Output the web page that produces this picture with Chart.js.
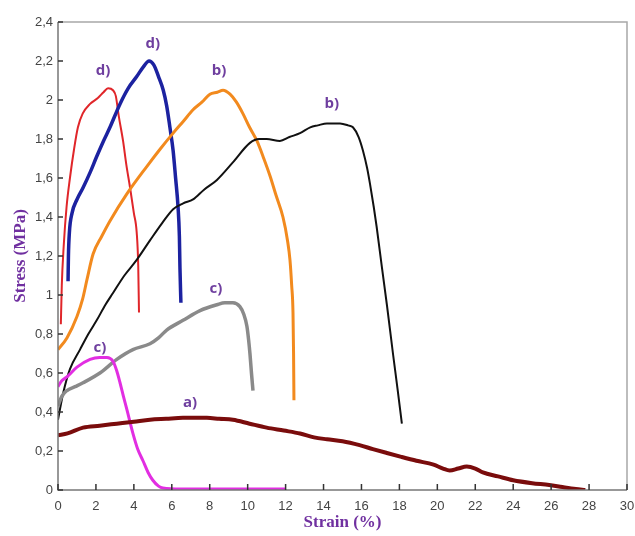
<!DOCTYPE html>
<html><head><meta charset="utf-8">
<script src="https://cdn.jsdelivr.net/npm/chart.js@4/dist/chart.umd.min.js"></script>
<style>html,body{margin:0;padding:0;background:#fff}#wrap{width:635px;height:536px}</style>
</head><body><div id="wrap"><canvas id="c" width="635" height="536"></canvas></div>
<script>
// ---- data (strain %, stress MPa) ----
const redDX = [0.15,0.2,0.3,0.45,0.63,0.85,1.05,1.3,1.69,2.1,2.4,2.64,2.9,3.05,3.2,3.43,3.6,3.8,4.0,4.15,4.23,4.27];
const redDY = [0.85,1.05,1.25,1.45,1.6,1.75,1.86,1.93,1.98,2.01,2.04,2.06,2.05,2.02,1.92,1.79,1.67,1.55,1.42,1.32,1.15,0.91];
const blueDX = [0.53,0.55,0.6,0.74,1.0,1.32,1.7,2.04,2.4,2.74,3.27,3.7,4.15,4.5,4.8,5.05,5.3,5.55,5.73,5.9,6.07,6.2,6.33,6.4,6.43,6.48];
const blueDY = [1.07,1.2,1.32,1.42,1.49,1.55,1.63,1.71,1.79,1.86,1.98,2.06,2.12,2.17,2.2,2.18,2.12,2.05,1.97,1.86,1.74,1.6,1.45,1.3,1.14,0.96];
const orangeBX = [0,0.47,1.0,1.3,1.53,1.85,2.3,2.74,3.64,4.69,5.4,6.07,6.6,7.12,7.6,8.01,8.4,8.7,9.07,9.4,9.75,10.1,10.49,10.85,11.18,11.5,11.86,12.1,12.23,12.32,12.39,12.42,12.44];
const orangeBY = [0.72,0.78,0.89,0.98,1.08,1.21,1.3,1.38,1.52,1.66,1.75,1.83,1.89,1.95,1.99,2.03,2.04,2.05,2.03,1.99,1.93,1.86,1.79,1.70,1.61,1.51,1.40,1.28,1.18,1.05,0.91,0.7,0.46];
const blackBX = [0,0.28,0.63,1.16,1.6,2.04,2.5,2.9,3.5,4.15,4.85,5.5,6.07,6.6,7.12,7.7,8.38,9.22,10.12,10.6,11.0,11.7,12.2,12.76,13.3,13.7,14.18,14.87,15.3,15.55,15.85,16.08,16.3,16.45,16.65,16.8,17.08,17.34,17.66,17.9,18.13];
const blackBY = [0.36,0.5,0.62,0.72,0.8,0.87,0.95,1.01,1.1,1.18,1.28,1.37,1.44,1.47,1.49,1.54,1.59,1.68,1.78,1.80,1.80,1.79,1.81,1.83,1.86,1.87,1.88,1.88,1.87,1.86,1.81,1.74,1.65,1.57,1.45,1.35,1.14,0.95,0.70,0.52,0.34];
const greyCX = [0,0.2,0.47,0.9,1.32,2.21,3.1,3.95,4.85,5.3,5.73,6.59,7.49,8.38,8.8,9.22,9.59,9.8,9.96,10.05,10.12,10.2,10.28];
const greyCY = [0.43,0.48,0.51,0.53,0.55,0.6,0.67,0.72,0.75,0.78,0.82,0.87,0.92,0.95,0.96,0.96,0.94,0.9,0.84,0.77,0.70,0.6,0.51];
const magentaCX = [0,0.2,0.47,1.0,1.69,2.2,2.58,2.9,3.1,3.27,3.45,3.64,3.95,4.2,4.48,4.75,5.0,5.3,5.53,6.5,8,10,12];
const magentaCY = [0.53,0.56,0.58,0.63,0.67,0.68,0.68,0.66,0.61,0.55,0.48,0.41,0.29,0.21,0.15,0.09,0.05,0.02,0.01,0.005,0.005,0.005,0.005];
const darkAX = [0,0.5,1.32,2.2,3.1,4.0,4.85,5.7,6.59,7.2,7.85,8.5,9.22,10.1,11.0,11.9,12.76,13.5,14.18,15,15.9,16.6,17.34,18.1,18.9,19.8,20.3,20.65,21.1,21.55,22.0,22.4,23.2,24.0,25.0,25.9,26.6,27.3,27.8];
const darkAY = [0.28,0.29,0.32,0.33,0.34,0.35,0.36,0.365,0.37,0.37,0.37,0.365,0.36,0.34,0.32,0.305,0.29,0.27,0.26,0.25,0.23,0.21,0.19,0.17,0.15,0.13,0.11,0.10,0.11,0.12,0.11,0.09,0.07,0.05,0.035,0.026,0.015,0.005,0];
// labels
const labelText = ['d)','d)','b)','b)','c)','c)','a)'];
const labelX = [2.37,5.0,8.49,14.44,8.33,2.21,6.96];
const labelY = [2.15,2.29,2.15,1.98,1.03,0.73,0.45];
const xTitle = 'Strain (%)';
const yTitle = 'Stress (MPa)';

const pts = (xs, ys) => xs.map((x, i) => ({x, y: ys[i]}));
const ds = (xs, ys, color, w) => ({data: pts(xs, ys), borderColor: color, borderWidth: w, showLine: true, pointRadius: 0, cubicInterpolationMode: 'monotone', fill: false});

const decorPlugin = {
  id: 'decor',
  afterDraw(chart) {
    const {ctx, chartArea: a, scales: {x, y}} = chart;
    ctx.save();
    ctx.lineWidth = 1.5;
    ctx.strokeStyle = '#a8a8a8';
    ctx.beginPath();
    ctx.moveTo(a.left, a.top); ctx.lineTo(a.right, a.top); ctx.lineTo(a.right, a.bottom);
    ctx.stroke();
    ctx.strokeStyle = '#777';
    ctx.beginPath();
    ctx.moveTo(a.left, a.top); ctx.lineTo(a.left, a.bottom); ctx.lineTo(a.right, a.bottom);
    ctx.stroke();
    ctx.strokeStyle = '#333';
    ctx.lineWidth = 1.5;
    ctx.beginPath();
    x.ticks.forEach(t => { const px = x.getPixelForValue(t.value); ctx.moveTo(px, a.bottom); ctx.lineTo(px, a.bottom - 6); });
    y.ticks.forEach(t => { const py = y.getPixelForValue(t.value); ctx.moveTo(a.left, py); ctx.lineTo(a.left + 5, py); });
    ctx.stroke();
    ctx.fillStyle = '#6f3f9f';
    ctx.font = 'bold 15px "Open Sans", "Liberation Sans", sans-serif';
    ctx.textAlign = 'center';
    ctx.textBaseline = 'middle';
    labelText.forEach((t, i) => ctx.fillText(t, x.getPixelForValue(labelX[i]), y.getPixelForValue(labelY[i])));
    ctx.restore();
  }
};

new Chart(document.getElementById('c'), {
  type: 'scatter',
  data: {datasets: [
    ds(darkAX, darkAY, '#7a0c0c', 4),
    ds(magentaCX, magentaCY, '#e22ee2', 3),
    ds(greyCX, greyCY, '#8a8a8a', 3.5),
    ds(blackBX, blackBY, '#111111', 2),
    ds(orangeBX, orangeBY, '#f28a1e', 3),
    ds(blueDX, blueDY, '#1c22a0', 3.5),
    ds(redDX, redDY, '#e0262a', 2)
  ]},
  options: {
    responsive: false,
    animation: false,
    events: [],
    layout: {padding: {left: 10, right: 0, top: 22, bottom: 0}},
    plugins: {legend: {display: false}, tooltip: {enabled: false}},
    scales: {
      x: {
        type: 'linear', min: 0, max: 30,
        grid: {display: false, drawTicks: false},
        border: {display: false},
        ticks: {stepSize: 2, padding: 9, color: '#444', font: {family: '"Liberation Sans", Arial, sans-serif', size: 13}},
        title: {display: true, text: xTitle, color: '#7030a0', padding: {top: 0, bottom: 3}, font: {family: '"Liberation Serif", "DejaVu Serif", serif', size: 17, weight: 'bold'}},
        afterFit(s) { s.height = 46; s.paddingRight = 8; s.paddingLeft = 0; }
      },
      y: {
        type: 'linear', min: 0, max: 2.4,
        grid: {display: false, drawTicks: false},
        border: {display: false},
        ticks: {stepSize: 0.2, padding: 5, color: '#444', font: {family: '"Liberation Sans", Arial, sans-serif', size: 13},
          callback: v => { const r = Math.round(v * 10) / 10; return Number.isInteger(r) ? String(r) : r.toFixed(1).replace('.', ','); }},
        title: {display: true, text: yTitle, color: '#7030a0', padding: {top: 0, bottom: 0}, font: {family: '"Liberation Serif", "DejaVu Serif", serif', size: 17, weight: 'bold'}},
        afterFit(s) { s.width = 48; s.paddingTop = 0; s.paddingBottom = 0; }
      }
    }
  },
  plugins: [decorPlugin]
});
</script></body></html>
